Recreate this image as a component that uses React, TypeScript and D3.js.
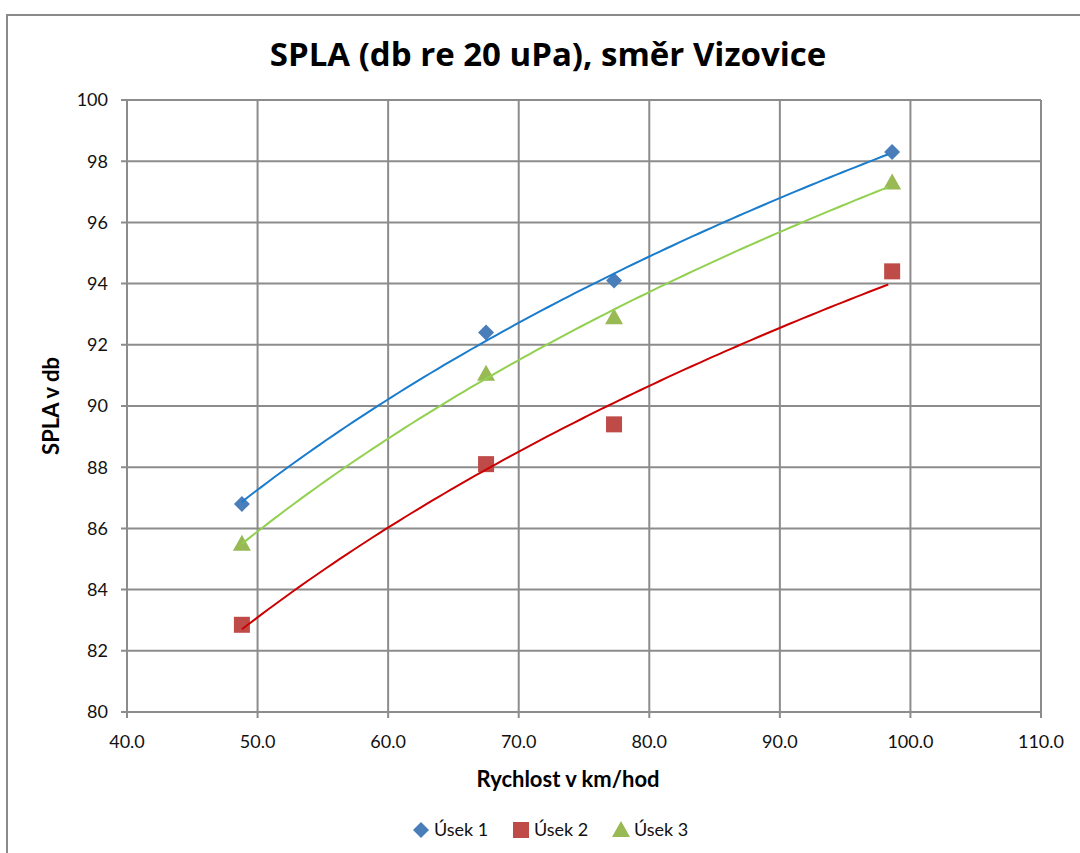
import { useEffect, useRef } from 'react';
import * as d3 from 'd3';

const speeds = [48.8, 67.5, 77.3, 98.6];
const usek1 = [86.8, 92.4, 94.1, 98.3];
const usek2 = [82.85, 88.1, 89.4, 94.4];
const usek3 = [85.5, 91.05, 92.9, 97.3];
const xTicks = [40, 50, 60, 70, 80, 90, 100, 110];
const yTicks = [80, 82, 84, 86, 88, 90, 92, 94, 96, 98, 100];

const series = [
  { name: 'Úsek 1', values: usek1, marker: 'diamond', fill: '#4a7ebb', trend: '#1a7ccc' },
  { name: 'Úsek 2', values: usek2, marker: 'square', fill: '#be4b48', trend: '#cc0000' },
  { name: 'Úsek 3', values: usek3, marker: 'triangle', fill: '#98b954', trend: '#92d050' },
];

const FONT = 'Lato, "Open Sans", sans-serif';
const TITLE_FONT = '"Open Sans", Lato, sans-serif';

// logarithmic trendline like Excel: y = a + b*ln(x)
function logFit(xs: number[], ys: number[]) {
  const lx = xs.map(Math.log);
  const mx = d3.mean(lx)!;
  const my = d3.mean(ys)!;
  let num = 0, den = 0;
  lx.forEach((v, i) => { num += (v - mx) * (ys[i] - my); den += (v - mx) * (v - mx); });
  const b = num / den;
  const a = my - b * mx;
  return (x: number) => a + b * Math.log(x);
}

const App = () => {
  const svgRef = useRef<SVGSVGElement>(null);
  const width = 1080;
  const height = 853;

  useEffect(() => {
    if (!svgRef.current) return;
    const svg = d3.select(svgRef.current);
    svg.selectAll('*').remove();

    // outer chart border (cropped at right and bottom)
    svg.append('rect')
      .attr('x', 7).attr('y', 15)
      .attr('width', 1100).attr('height', 900)
      .attr('fill', 'white')
      .attr('stroke', '#8a8a8a')
      .attr('stroke-width', 2);

    const x = d3.scaleLinear().domain([40, 110]).range([127, 1041]);
    const y = d3.scaleLinear().domain([80, 100]).range([712, 100]);

    const g = svg.append('g');
    const grid = '#8c8c8c';

    // grid lines
    yTicks.forEach(t => {
      g.append('line')
        .attr('x1', x(40) - 6).attr('x2', x(110))
        .attr('y1', y(t)).attr('y2', y(t))
        .attr('stroke', grid).attr('stroke-width', 2);
      g.append('text')
        .attr('x', x(40) - 19).attr('y', y(t))
        .attr('dy', '0.35em')
        .attr('text-anchor', 'end')
        .style('font-family', FONT).style('font-size', '18px').style('fill', '#111')
        .text(t);
    });
    xTicks.forEach(t => {
      g.append('line')
        .attr('x1', x(t)).attr('x2', x(t))
        .attr('y1', y(100)).attr('y2', y(80) + 6)
        .attr('stroke', grid).attr('stroke-width', 2);
      g.append('text')
        .attr('x', x(t)).attr('y', y(80) + 36)
        .attr('text-anchor', 'middle')
        .style('font-family', FONT).style('font-size', '18px').style('fill', '#111')
        .text(t.toFixed(1));
    });

    // titles
    svg.append('text')
      .attr('x', 548).attr('y', 66)
      .attr('text-anchor', 'middle')
      .style('font-family', TITLE_FONT).style('font-size', '33px').style('font-weight', 'bold')
      .text('SPLA (db re 20 uPa), směr Vizovice');
    svg.append('text')
      .attr('x', 568).attr('y', 787)
      .attr('text-anchor', 'middle')
      .style('font-family', FONT).style('font-size', '22px').style('font-weight', 'bold')
      .text('Rychlost v km/hod');
    svg.append('text')
      .attr('transform', `translate(59, 406) rotate(-90)`)
      .attr('text-anchor', 'middle')
      .style('font-family', FONT).style('font-size', '22px').style('font-weight', 'bold')
      .text('SPLA v db');

    const drawMarker = (sel: any, kind: string, cx: number, cy: number, fill: string) => {
      if (kind === 'diamond') {
        sel.append('path')
          .attr('d', `M${cx},${cy - 8}L${cx + 8},${cy}L${cx},${cy + 8}L${cx - 8},${cy}Z`)
          .attr('fill', fill);
      } else if (kind === 'square') {
        sel.append('rect')
          .attr('x', cx - 8).attr('y', cy - 8).attr('width', 16).attr('height', 16)
          .attr('fill', fill);
      } else {
        sel.append('path')
          .attr('d', `M${cx},${cy - 9}L${cx + 9},${cy + 7}L${cx - 9},${cy + 7}Z`)
          .attr('fill', fill);
      }
    };

    // markers
    series.forEach(s => {
      speeds.forEach((sp, i) => drawMarker(g, s.marker, x(sp), y(s.values[i]), s.fill));
    });

    // trendlines
    series.forEach(s => {
      const f = logFit(speeds, s.values);
      const xs = d3.range(speeds[0], speeds[speeds.length - 1] + 0.01, 0.5);
      const line = d3.line<number>().x(v => x(v)).y(v => y(f(v)));
      g.append('path')
        .attr('d', line(xs))
        .attr('fill', 'none')
        .attr('stroke', s.trend)
        .attr('stroke-width', 2);
    });

    // legend
    const legendX = [421, 521, 621];
    series.forEach((s, i) => {
      drawMarker(svg, s.marker, legendX[i], 830, s.fill);
      svg.append('text')
        .attr('x', legendX[i] + 13).attr('y', 830)
        .attr('dy', '0.35em')
        .style('font-family', FONT).style('font-size', '18px').style('fill', '#111')
        .text(s.name);
    });
  }, []);

  return (
    <svg ref={svgRef} width={width} height={height} style={{ position: 'absolute', left: 0, top: 0, background: 'white' }} />
  );
};

export default App;
